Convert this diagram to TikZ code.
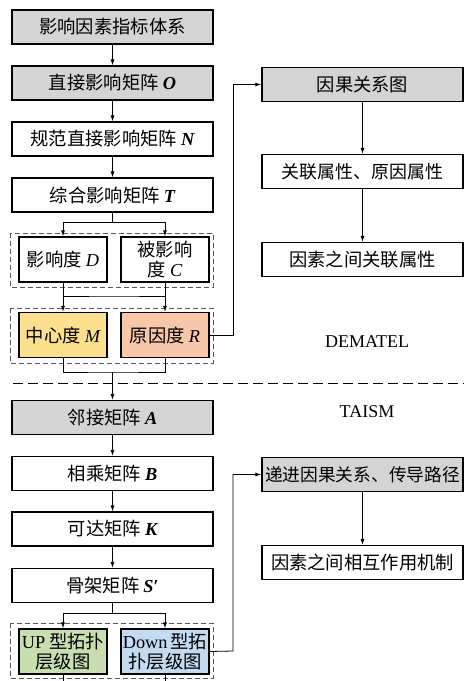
\documentclass[tikz,border=0pt]{standalone}
\usepackage{fontspec}
\setmainfont{Liberation Serif}
\newfontfamily\cjk{Noto Sans CJK SC}
\usetikzlibrary{arrows.meta}
\definecolor{gfill}{HTML}{D4D4D4}
\definecolor{yfill}{HTML}{FDE08E}
\definecolor{rfill}{HTML}{F8C6A8}
\definecolor{greenfill}{HTML}{C8DEB0}
\definecolor{bfill}{HTML}{C4DAF0}
\newcommand\mi[1]{{\rmfamily\itshape #1}}
\newcommand\mbi[1]{{\rmfamily\bfseries\itshape #1}}
\newcommand\lt[1]{{\rmfamily #1}}
\tikzset{
  box/.style={draw, line width=1.3pt, minimum width=201pt, minimum height=34pt, inner sep=0pt,
    align=center, font=\cjk\fontsize{18.3}{21}\selectfont},
  gbox/.style={box, fill=gfill},
  sbox/.style={draw, line width=1.3pt, minimum width=88pt, minimum height=45pt, inner sep=0pt,
    align=center, font=\cjk\fontsize{18.3}{20.5}\selectfont},
  grp/.style={draw=black!65, line width=1pt, dash pattern=on 5pt off 3pt},
  arr/.style={-{Latex[length=6pt,width=4pt]}, line width=0.8pt},
  ln/.style={line width=0.8pt},
  lbl/.style={font=\fontsize{18}{20}\selectfont}
}
\begin{document}
\begin{tikzpicture}[x=1pt,y=-1pt]
\useasboundingbox (0,0) rectangle (464,681);
% left column DEMATEL
\node[gbox] (b1) at (112.5,27) {影响因素指标体系};
\node[gbox] (b2) at (112.5,83) {直接影响矩阵 \mbi{O}};
\node[box] (b3) at (112.5,139) {规范直接影响矩阵 \mbi{N}};
\node[box] (b4) at (112.5,195) {综合影响矩阵 \mbi{T}};
\draw[grp] (10,233) rectangle (213,287);
\node[sbox] (d) at (63,259.5) {影响度 \mi{D}};
\node[sbox] (c) at (165,259.5) {被影响\\度 \mi{C}};
\draw[grp] (10,308) rectangle (213,363);
\node[sbox, fill=yfill] (m) at (63,335) {中心度 \mi{M}};
\node[sbox, fill=rfill] (r) at (165,335) {原因度 \mi{R}};
\draw[arr] (b1) -- (b2);
\draw[arr] (b2) -- (b3);
\draw[arr] (b3) -- (b4);
\coordinate (s1) at (112.5,222);
\draw[ln] (b4.south) -- (s1);
\draw[arr] (s1) -| (d.north);
\draw[arr] (s1) -| (c.north);
\coordinate (s2) at (114,296);
\draw[ln] (d.south) |- (s2) -| (c.south);
\draw[arr] (d.south) -- (m.north);
\draw[arr] (c.south) -- (r.north);
\coordinate (s3) at (112.5,372);
\draw[ln] (m.south) |- (s3) -| (r.south);
% separator
\coordinate (sepL) at (13,383);
\coordinate (sepR) at (464,383);
\draw[line width=1pt, dash pattern=on 10pt off 5pt] (sepL) -- (sepR);
% left column TAISM
\node[gbox] (a) at (112.5,417.5) {邻接矩阵 \mbi{A}};
\node[box] (bb) at (112.5,473.5) {相乘矩阵 \mbi{B}};
\node[box] (k) at (112.5,529) {可达矩阵 \mbi{K}};
\node[box] (sp) at (112.5,585.5) {骨架矩阵 \mbi{S}\lt{\bfseries ′}};
\draw[arr] (s3) -- (a);
\draw[arr] (a) -- (bb);
\draw[arr] (bb) -- (k);
\draw[arr] (k) -- (sp);
\draw[grp] (10,623) rectangle (213,678);
\node[sbox, fill=greenfill] (up) at (63,651.5) {\lt{UP} 型拓扑\\层级图};
\node[sbox, fill=bfill] (dn) at (165,651.5) {\lt{Down}\,型拓\\扑层级图};
\coordinate (s4) at (112.5,613);
\draw[ln] (sp.south) -- (s4);
\draw[arr] (s4) -| (up.north);
\draw[arr] (s4) -| (dn.north);
\coordinate (e1) at (63,681);
\coordinate (e2) at (165,681);
\draw[ln] (up.south) -- (e1);
\draw[ln] (dn.south) -- (e2);
% right column
\node[gbox] (r1) at (362.5,84.5) {因果关系图};
\node[box, font=\cjk\fontsize{17.9}{21}\selectfont] (r2) at (362.5,171.5) {关联属性、原因属性};
\node[box] (r3) at (362.5,259.5) {因素之间关联属性};
\draw[arr] (r1) -- (r2);
\draw[arr] (r2) -- (r3);
\node[lbl] (dem) at (367,342) {DEMATEL};
\node[lbl] (tai) at (367,412) {TAISM};
\node[gbox, font=\cjk\fontsize{17.7}{21}\selectfont] (r4) at (362.5,474.5) {递进因果关系、传导路径};
\node[box] (r5) at (362.5,562.5) {因素之间相互作用机制};
\draw[arr] (r4) -- (r5);
\coordinate (t1) at (233,335);
\coordinate (t2) at (233,651);
\draw[arr] (r.east) -- (t1) |- (r1.west);
\draw[arr] (dn.east) -- (t2) |- (r4.west);
\end{tikzpicture}
\end{document}
